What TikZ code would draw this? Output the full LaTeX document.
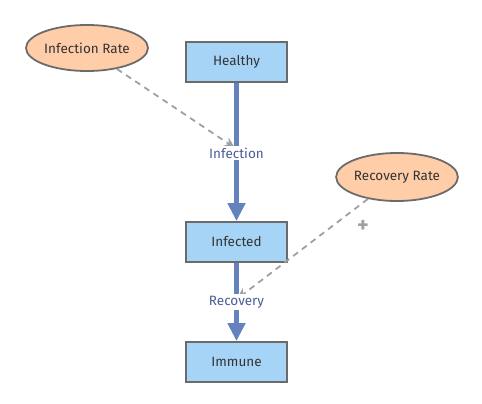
\documentclass[tikz,border=0pt]{standalone}
\usepackage{fontspec}
\setmainfont{Fira Sans}
\usetikzlibrary{shapes.geometric,arrows.meta}
\definecolor{boxfill}{HTML}{A6D4F7}
\definecolor{boxdraw}{HTML}{6B6B6B}
\definecolor{ellfill}{HTML}{FFCDA8}
\definecolor{flowc}{HTML}{6482BE}
\definecolor{labc}{HTML}{4A5E96}
\definecolor{dashc}{HTML}{A0A0A0}
\begin{document}
\begin{tikzpicture}[x=1pt,y=-1pt,
  stock/.style={draw=boxdraw,line width=1.8pt,fill=boxfill,minimum width=101pt,minimum height=40pt,inner sep=0pt,text=black!80,font=\fontsize{13.5}{15}\selectfont},
  param/.style={ellipse,draw=boxdraw,line width=1.8pt,fill=ellfill,inner sep=0pt,text=black!80,font=\fontsize{13.5}{15}\selectfont},
  flow/.style={draw=flowc,line width=4.5pt,-{Triangle[width=17pt,length=18pt]}},
  flowlab/.style={fill=white,inner sep=1.5pt,text=labc,font=\fontsize{13.5}{15}\selectfont},
  link/.style={draw=dashc,line width=1.8pt,dash pattern=on 6pt off 5pt,-{Stealth[length=11pt,width=10pt]}}]
\useasboundingbox (0,0) rectangle (482,404);
\node[stock] (healthy) at (236.5,62) {Healthy};
\node[stock] (infected) at (236.5,242) {Infected};
\node[stock] (immune) at (236.5,362) {Immune};
\node[param,minimum width=122pt,minimum height=46pt] (ir) at (87,48) {Infection Rate};
\node[param,minimum width=120pt,minimum height=48pt] (rr) at (397,177) {Recovery Rate};
\coordinate (iv) at (235,148);
\coordinate (rv) at (237,299);
\draw[flow] (healthy.south) -- (infected.north);
\draw[flow] (infected.south) -- (immune.north);
\draw[link] (ir.-35) -- (iv);
\draw[link] (rr.217) -- (rv);
\node[flowlab] (infl) at (236.5,153) {Infection};
\node[flowlab] (recl) at (236.5,302) {Recovery};
\node[text=dashc,font=\bfseries\fontsize{22}{22}\selectfont] (plus) at (363,226) {+};
\end{tikzpicture}
\end{document}
